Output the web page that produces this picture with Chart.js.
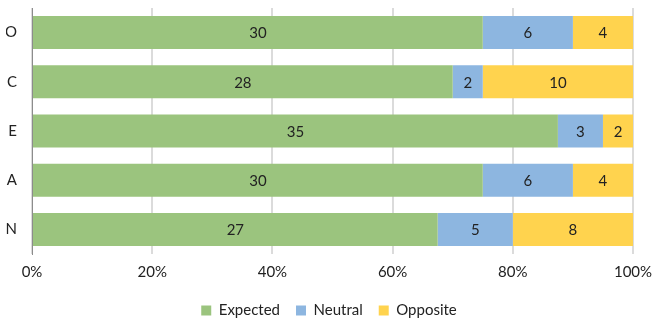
<!DOCTYPE html>
<html>
<head>
<meta charset="utf-8">
<script src="https://cdn.jsdelivr.net/npm/chart.js@4/dist/chart.umd.min.js"></script>
<style>
  html, body { margin: 0; padding: 0; background: #fff; }
  #wrap { width: 652px; height: 320px; }
</style>
</head>
<body>
<div id="wrap"><canvas id="chart" width="652" height="320"></canvas></div>
<script>
var categories = ["O", "C", "E", "A", "N"];
var expected = [30, 28, 35, 30, 27];
var neutral = [6, 2, 3, 6, 5];
var opposite = [4, 10, 2, 4, 8];
var xTicks = [0, 20, 40, 60, 80, 100];

var FONT = "Lato, 'Open Sans', sans-serif";

// each bar is shown as a share of its row total
function toPercent(arr) {
  var out = [];
  for (var i = 0; i < arr.length; i++) {
    var total = expected[i] + neutral[i] + opposite[i];
    out.push(arr[i] / total * 100);
  }
  return out;
}

var raw = [expected, neutral, opposite];

// count labels in the middle of each segment
var countLabels = {
  id: "countLabels",
  afterDatasetsDraw: function(chart) {
    var ctx = chart.ctx;
    ctx.save();
    ctx.font = "15px " + FONT;
    ctx.fillStyle = "#222";
    ctx.textAlign = "center";
    ctx.textBaseline = "middle";
    chart.data.datasets.forEach(function(ds, di) {
      var meta = chart.getDatasetMeta(di);
      meta.data.forEach(function(bar, i) {
        var cx = (bar.x + bar.base) / 2;
        ctx.fillText(String(raw[di][i]), cx, bar.y + 1);
      });
    });
    ctx.restore();
  }
};

new Chart(document.getElementById("chart"), {
  type: "bar",
  data: {
    labels: categories,
    datasets: [
      { label: "Expected", data: toPercent(expected), backgroundColor: "#9bc47e" },
      { label: "Neutral", data: toPercent(neutral), backgroundColor: "#8db6e0" },
      { label: "Opposite", data: toPercent(opposite), backgroundColor: "#ffd34e" }
    ]
  },
  options: {
    indexAxis: "y",
    responsive: false,
    animation: false,
    categoryPercentage: 1,
    barPercentage: 0.67,
    layout: { padding: { top: 8, left: 6, right: 0, bottom: -8 } },
    scales: {
      x: {
        stacked: true,
        min: 0,
        max: 100,
        z: 1,
        afterBuildTicks: function(axis) {
          axis.ticks = xTicks.map(function(v) { return { value: v }; });
        },
        afterFit: function(axis) {
          axis.height = 33;
          axis.paddingLeft = 0;
          axis.paddingRight = 19;
        },
        ticks: {
          callback: function(v) { return v + "%"; },
          color: "#222",
          font: { family: FONT, size: 15 },
          padding: 9,
          maxRotation: 0
        },
        grid: { color: "rgba(0,0,0,0.14)", lineWidth: 2, tickLength: 0, drawTicks: false },
        border: { display: false }
      },
      y: {
        stacked: true,
        z: 1,
        afterFit: function(axis) {
          axis.width = 26;
          axis.paddingTop = 0;
          axis.paddingBottom = 0;
        },
        ticks: {
          color: "#222",
          font: { family: FONT, size: 15 },
          padding: 15
        },
        grid: { display: false, drawTicks: false },
        border: { display: true, color: "#8c8c8c", width: 1 }
      }
    },
    plugins: {
      legend: {
        position: "bottom",
        labels: {
          boxWidth: 10,
          boxHeight: 10,
          padding: 16,
          color: "#222",
          font: { family: FONT, size: 15 }
        }
      },
      tooltip: { enabled: false }
    }
  },
  plugins: [countLabels]
});
</script>
</body>
</html>
